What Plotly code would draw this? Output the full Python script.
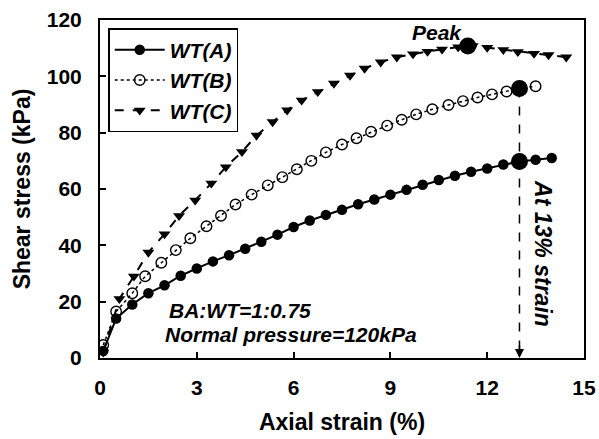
import plotly.graph_objects as go

# Series A (filled circles, solid)
a_x = [0.1, 0.5, 1.0, 1.5, 2.0, 2.5, 3.0, 3.5, 4.0, 4.5, 5.0, 5.5, 6.0, 6.5, 7.0,
       7.5, 8.0, 8.5, 9.0, 9.5, 10.0, 10.5, 11.0, 11.5, 12.0, 12.5, 13.0, 13.5, 14.0]
a_y = [2.5, 14, 19, 23, 25.8, 29.2, 31.8, 34.3, 36.5, 38.8, 41.3, 43.8, 46.5, 48.8, 50.8,
       52.6, 54.6, 56.3, 58, 59.7, 61.5, 63.2, 64.7, 66.1, 67.3, 68.7, 69.8, 70.4, 71]

# Series B (open circles, dotted)
b_x = [0.1, 0.5, 1.0, 1.4, 1.9, 2.35, 2.8, 3.3, 3.75, 4.2, 4.7, 5.2, 5.65, 6.1, 6.55,
       7.0, 7.5, 7.95, 8.4, 8.9, 9.35, 9.8, 10.3, 10.8, 11.25, 11.7, 12.15, 12.6, 13.0, 13.5]
b_y = [4.6, 16.5, 23, 29, 33.8, 38.3, 42.5, 46.8, 50.5, 54.5, 58, 61.3, 64.2, 67, 70,
       73, 75.8, 78, 80.3, 82.5, 84.6, 86.5, 88.3, 89.8, 91.2, 92.5, 93.6, 94.6, 95.7, 96.5]

# Series C (down triangles, dashed)
c_x = [0.1, 0.6, 1.05, 1.5, 2.0, 2.45, 2.95, 3.45, 3.9, 4.4, 4.85, 5.35, 5.8, 6.25, 6.75,
       7.25, 7.75, 8.2, 8.7, 9.2, 9.7, 10.15, 10.6, 11.1, 11.55, 12.0, 12.5, 12.95, 13.45, 13.9, 14.45]
c_y = [2, 21, 29, 37.5, 44, 50.5, 56, 62, 67.8, 73.2, 79, 83.8, 88, 91.5, 94.5,
       97.5, 100.3, 102.8, 105, 106.8, 107.9, 108.8, 109.6, 110.4, 110.8, 110.2, 109.4, 108.7, 108.1, 107.6, 106.8]

# Highlighted points
hl_x = [11.4, 13.0, 13.0]
hl_y = [110.8, 95.7, 69.8]

ref_strain = 13.0
x_ticks = [0, 3, 6, 9, 12, 15]
y_ticks = [0, 20, 40, 60, 80, 100, 120]

FONT = "Liberation Sans, Arial, sans-serif"

fig = go.Figure()
fig.add_trace(go.Scatter(x=a_x, y=a_y, mode="lines+markers", name="<b><i>WT(A)</i></b>",
                         line=dict(color="black", width=2, dash="solid"),
                         marker=dict(symbol="circle", size=10.5, color="black")))
fig.add_trace(go.Scatter(x=b_x, y=b_y, mode="lines+markers", name="<b><i>WT(B)</i></b>",
                         line=dict(color="black", width=1.5, dash="dot"),
                         marker=dict(symbol="circle-open", size=10.5, color="black", line=dict(width=1.4))))
fig.add_trace(go.Scatter(x=c_x, y=c_y, mode="lines+markers", name="<b><i>WT(C)</i></b>",
                         line=dict(color="black", width=2, dash="dash"),
                         marker=dict(symbol="triangle-down", size=10.5, color="black")))
fig.add_trace(go.Scatter(x=hl_x, y=hl_y, mode="markers", showlegend=False,
                         marker=dict(symbol="circle", size=17, color="black")))

# dashed reference line at 13% strain
fig.add_shape(type="line", x0=ref_strain, x1=ref_strain, y0=hl_y[1], y1=3,
              xref="x", yref="y", line=dict(color="black", width=1.5, dash="dash"))
fig.add_annotation(x=ref_strain, y=0, xref="x", yref="y", ax=0, ay=-14, text="",
                   showarrow=True, arrowhead=2, arrowsize=1.2, arrowwidth=1.5, arrowcolor="black")

fig.add_annotation(x=10.45, y=115.4, xref="x", yref="y", text="<b><i>Peak</i></b>", showarrow=False,
                   font=dict(family=FONT, size=21, color="black"))
fig.add_annotation(x=13.75, y=37, xref="x", yref="y", text="<b><i>At 13% strain</i></b>", showarrow=False,
                   textangle=90, font=dict(family=FONT, size=23, color="black"))
fig.add_annotation(x=2.07, y=17, xref="x", yref="y", text="<b><i>BA:WT=1:0.75</i></b>", showarrow=False,
                   xanchor="left", font=dict(family=FONT, size=21, color="black"))
fig.add_annotation(x=1.95, y=8.2, xref="x", yref="y", text="<b><i>Normal pressure=120kPa</i></b>", showarrow=False,
                   xanchor="left", font=dict(family=FONT, size=21, color="black"))

axis_common = dict(showline=True, linecolor="black", linewidth=2, mirror=True,
                   ticks="inside", ticklen=6, tickwidth=2, tickcolor="black",
                   showgrid=False, zeroline=False, automargin=False,
                   tickfont=dict(family=FONT, size=21, color="black", weight="bold"))

fig.update_xaxes(range=[0, 15], tickvals=x_ticks, ticktext=[str(v) for v in x_ticks],
                 title=dict(text="<b>Axial strain (%)</b>", font=dict(family=FONT, size=23, color="black"), standoff=16),
                 ticklabelstandoff=10, **axis_common)
fig.update_yaxes(range=[0, 120], tickvals=y_ticks, ticktext=[str(v) for v in y_ticks],
                 title=dict(text="<b>Shear stress (kPa)</b>", font=dict(family=FONT, size=23, color="black"), standoff=10),
                 ticklabelstandoff=12, **axis_common)

fig.update_layout(
    width=599, height=439,
    margin=dict(l=100, r=15, t=20, b=81),
    plot_bgcolor="white", paper_bgcolor="white",
    font=dict(family=FONT, color="black"),
    legend=dict(x=0.017, y=0.976, xanchor="left", yanchor="top",
                bordercolor="black", borderwidth=1.5, bgcolor="white",
                font=dict(family=FONT, size=21, color="black"),
                itemwidth=50, tracegroupgap=0),
    showlegend=True,
)

fig.write_html("out.html")
